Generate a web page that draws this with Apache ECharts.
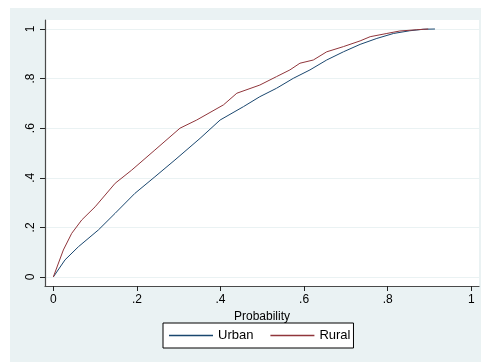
<!DOCTYPE html>
<html>
<head>
<meta charset="utf-8">
<script src="https://cdn.jsdelivr.net/npm/echarts@6/dist/echarts.min.js"></script>
<style>
html,body{margin:0;padding:0;background:#fff;}
#c{width:481px;height:362px;}
</style>
</head>
<body>
<div id="c"></div>
<script>
var tickValues = [0, 0.2, 0.4, 0.6, 0.8, 1];
var seriesNames = ['Urban', 'Rural'];
var urbanX = [0, 0.028, 0.06, 0.108, 0.148, 0.195, 0.243, 0.291, 0.351, 0.399, 0.455, 0.494, 0.534, 0.574, 0.614, 0.654, 0.694, 0.734, 0.774, 0.814, 0.853, 0.885, 0.913];
var urbanY = [0, 0.069, 0.122, 0.19, 0.257, 0.337, 0.404, 0.472, 0.559, 0.633, 0.687, 0.727, 0.761, 0.801, 0.835, 0.875, 0.908, 0.938, 0.962, 0.982, 0.993, 0.999, 1];
var ruralX = [0, 0.024, 0.044, 0.068, 0.1, 0.148, 0.1875, 0.243, 0.303, 0.343, 0.407, 0.439, 0.494, 0.534, 0.566, 0.59, 0.622, 0.654, 0.694, 0.734, 0.758, 0.798, 0.829, 0.869, 0.897];
var ruralY = [0, 0.109, 0.176, 0.23, 0.283, 0.378, 0.431, 0.512, 0.6, 0.633, 0.694, 0.741, 0.774, 0.808, 0.835, 0.862, 0.875, 0.908, 0.929, 0.952, 0.969, 0.982, 0.992, 0.997, 1];

function pairs(xs, ys){ return xs.map(function(x,i){ return [x, ys[i]]; }); }
function fmt(v){
  if (Math.abs(v) < 1e-9) return '0';
  if (Math.abs(v-1) < 1e-9) return '1';
  return String(+v.toFixed(2)).replace(/^0/, '');
}

var urbanColor = '#1a476f', ruralColor = '#90353b';
var chart = echarts.init(document.getElementById('c'), null, {renderer:'canvas'});
var font = 'Liberation Sans, Arial, sans-serif';
chart.setOption({
  animation: false,
  backgroundColor: '#ffffff',
  color: [urbanColor, ruralColor],
  graphic: [{
    type: 'rect', z: -100, silent: true,
    shape: {x: 10, y: 8, width: 471, height: 354},
    style: {fill: '#EAF2F3'}
  }],
  grid: {left: 45, right: 2, top: 20, bottom: 76, show: true, backgroundColor: '#ffffff', borderWidth: 0},
  xAxis: {
    type: 'value', min: -0.0199, max: 1.0184,
    name: 'Probability', nameLocation: 'middle', nameGap: 21,
    nameTextStyle: {fontFamily: font, fontSize: 12, color: '#000'},
    axisLine: {show: true, onZero: false, lineStyle: {color: '#4a4a4a', width: 1.2}},
    axisTick: {show: true, length: 5, customValues: tickValues, lineStyle: {color: '#222'}},
    axisLabel: {customValues: tickValues, formatter: fmt, margin: 8, fontFamily: font, fontSize: 12, color: '#000'},
    splitLine: {show: false}
  },
  yAxis: {
    type: 'value', min: -0.0363, max: 1.0363,
    axisLine: {show: true, onZero: false, lineStyle: {color: '#4a4a4a', width: 1.2}},
    axisTick: {show: true, length: 5, customValues: tickValues, lineStyle: {color: '#222'}},
    axisLabel: {customValues: tickValues, formatter: fmt, rotate: 90, margin: 8, fontFamily: font, fontSize: 12, color: '#000'},
    splitLine: {show: true, lineStyle: {color: '#EAF2F3', width: 1}}
  },
  legend: {
    data: [
      {name: seriesNames[0], icon: 'rect', itemStyle: {color: urbanColor, borderWidth: 0}},
      {name: seriesNames[1], icon: 'rect', itemStyle: {color: ruralColor, borderWidth: 0}}
    ],
    left: 163, top: 323,
    orient: 'horizontal',
    padding: [5, 3, 5, 6],
    itemGap: 17, itemWidth: 44, itemHeight: 1.5,
    borderColor: '#000', borderWidth: 1, borderRadius: 0,
    backgroundColor: '#ffffff',
    textStyle: {fontFamily: font, fontSize: 13, lineHeight: 15, color: '#000'}
  },
  series: [
    {name: seriesNames[0], type: 'line', data: pairs(urbanX, urbanY), symbol: 'none', color: urbanColor, lineStyle: {color: urbanColor, width: 1}, itemStyle: {color: urbanColor}},
    {name: seriesNames[1], type: 'line', data: pairs(ruralX, ruralY), symbol: 'none', color: ruralColor, lineStyle: {color: ruralColor, width: 1}, itemStyle: {color: ruralColor}}
  ]
});
</script>
</body>
</html>
